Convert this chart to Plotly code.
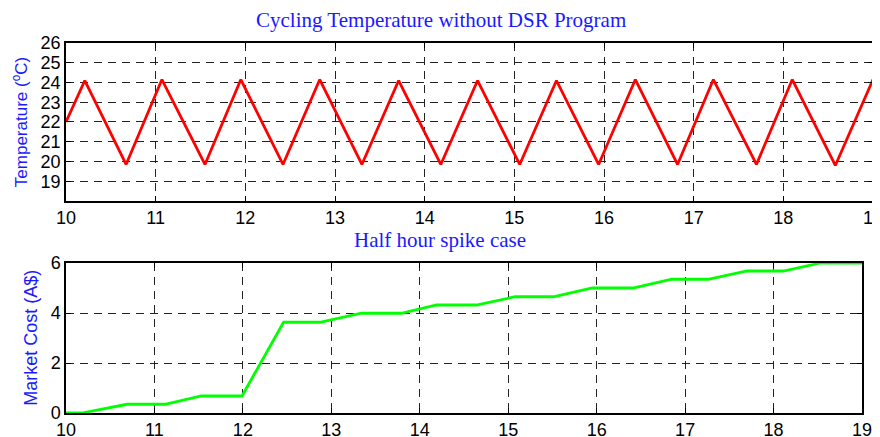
import plotly.graph_objects as go

# Temperature cycling data (hour of day, deg C)
hours_temp = [10.0, 10.21, 10.67, 11.07, 11.55, 11.95, 12.42, 12.83, 13.30, 13.71, 14.18,
              14.59, 15.06, 15.47, 15.94, 16.35, 16.82, 17.22, 17.70, 18.10, 18.58, 19.0]
temp = [22.0, 24.1, 19.85, 24.15, 19.85, 24.15, 19.85, 24.15, 19.85, 24.1, 19.85,
        24.1, 19.85, 24.1, 19.85, 24.15, 19.85, 24.15, 19.85, 24.15, 19.8, 24.15]

# Market cost data (hour of day, A$)
hours_cost = [10.0, 10.18, 10.69, 11.12, 11.53, 11.99, 12.46, 12.87, 13.34, 13.79, 14.19,
              14.64, 15.08, 15.51, 15.95, 16.41, 16.85, 17.26, 17.70, 18.11, 18.53, 19.0]
cost = [0.0, 0.0, 0.35, 0.35, 0.68, 0.68, 3.63, 3.63, 3.99, 3.99, 4.32,
        4.32, 4.65, 4.65, 5.0, 5.0, 5.35, 5.35, 5.68, 5.68, 6.0, 6.0]

x_ticks = list(range(10, 20))
temp_ticks = list(range(19, 27))
cost_ticks = [0, 2, 4, 6]

TICKFONT = dict(family="Liberation Sans, Arial", size=18, color="black")
BLUE = "#1a1aff"

fig = go.Figure()
fig.add_trace(go.Scatter(x=hours_temp, y=temp, mode="lines",
                         line=dict(color="#ff0000", width=2.8),
                         xaxis="x", yaxis="y", showlegend=False))
fig.add_trace(go.Scatter(x=hours_cost, y=cost, mode="lines",
                         line=dict(color="#00ff00", width=2.8),
                         xaxis="x2", yaxis="y2", showlegend=False))

axis_common = dict(showline=True, linecolor="black", linewidth=1.5, mirror="allticks",
                   ticks="inside", ticklen=5, tickcolor="black",
                   showgrid=True, gridcolor="#222222", gridwidth=1, griddash="8px,6px",
                   zeroline=False, tickfont=TICKFONT, automargin=False)

# page body has an 8px default margin, so the figure is offset by (8, 8)
fig.update_layout(
    width=872, height=429,
    margin=dict(l=58, r=7, t=35, b=24, autoexpand=False),
    paper_bgcolor="white", plot_bgcolor="white",
    xaxis=dict(domain=[0, 1], range=[10, 19], tickvals=x_ticks, anchor="y",
               ticklabeloverflow="allow", **axis_common),
    yaxis=dict(domain=[0.573, 1], range=[18, 26], tickvals=temp_ticks, anchor="x", **axis_common),
    xaxis2=dict(domain=[0, 0.9864], range=[10, 19], tickvals=x_ticks, anchor="y2",
                ticklabeloverflow="allow", **axis_common),
    yaxis2=dict(domain=[0, 0.4054], range=[0, 6], tickvals=cost_ticks, anchor="x2", **axis_common),
    annotations=[
        dict(text="Cycling Temperature without DSR Program", xref="paper", yref="paper",
             x=0.465, y=1.062, xanchor="center", yanchor="middle", showarrow=False,
             font=dict(family="Liberation Serif, Times New Roman", size=21, color=BLUE)),
        dict(text="Half hour spike case", xref="paper", yref="paper",
             x=0.463, y=0.4676, xanchor="center", yanchor="middle", showarrow=False,
             font=dict(family="Liberation Serif, Times New Roman", size=21, color=BLUE)),
        dict(text="Temperature (<sup>o</sup>C)", xref="paper", yref="paper",
             x=-0.057, y=0.786, xanchor="center", yanchor="middle", showarrow=False,
             textangle=-90, font=dict(family="Liberation Sans, Arial", size=17, color=BLUE)),
        dict(text="Market Cost (A$)", xref="paper", yref="paper",
             x=-0.0434, y=0.203, xanchor="center", yanchor="middle", showarrow=False,
             textangle=-90, font=dict(family="Liberation Sans, Arial", size=18, color=BLUE)),
    ],
)

fig.write_html("out.html")
